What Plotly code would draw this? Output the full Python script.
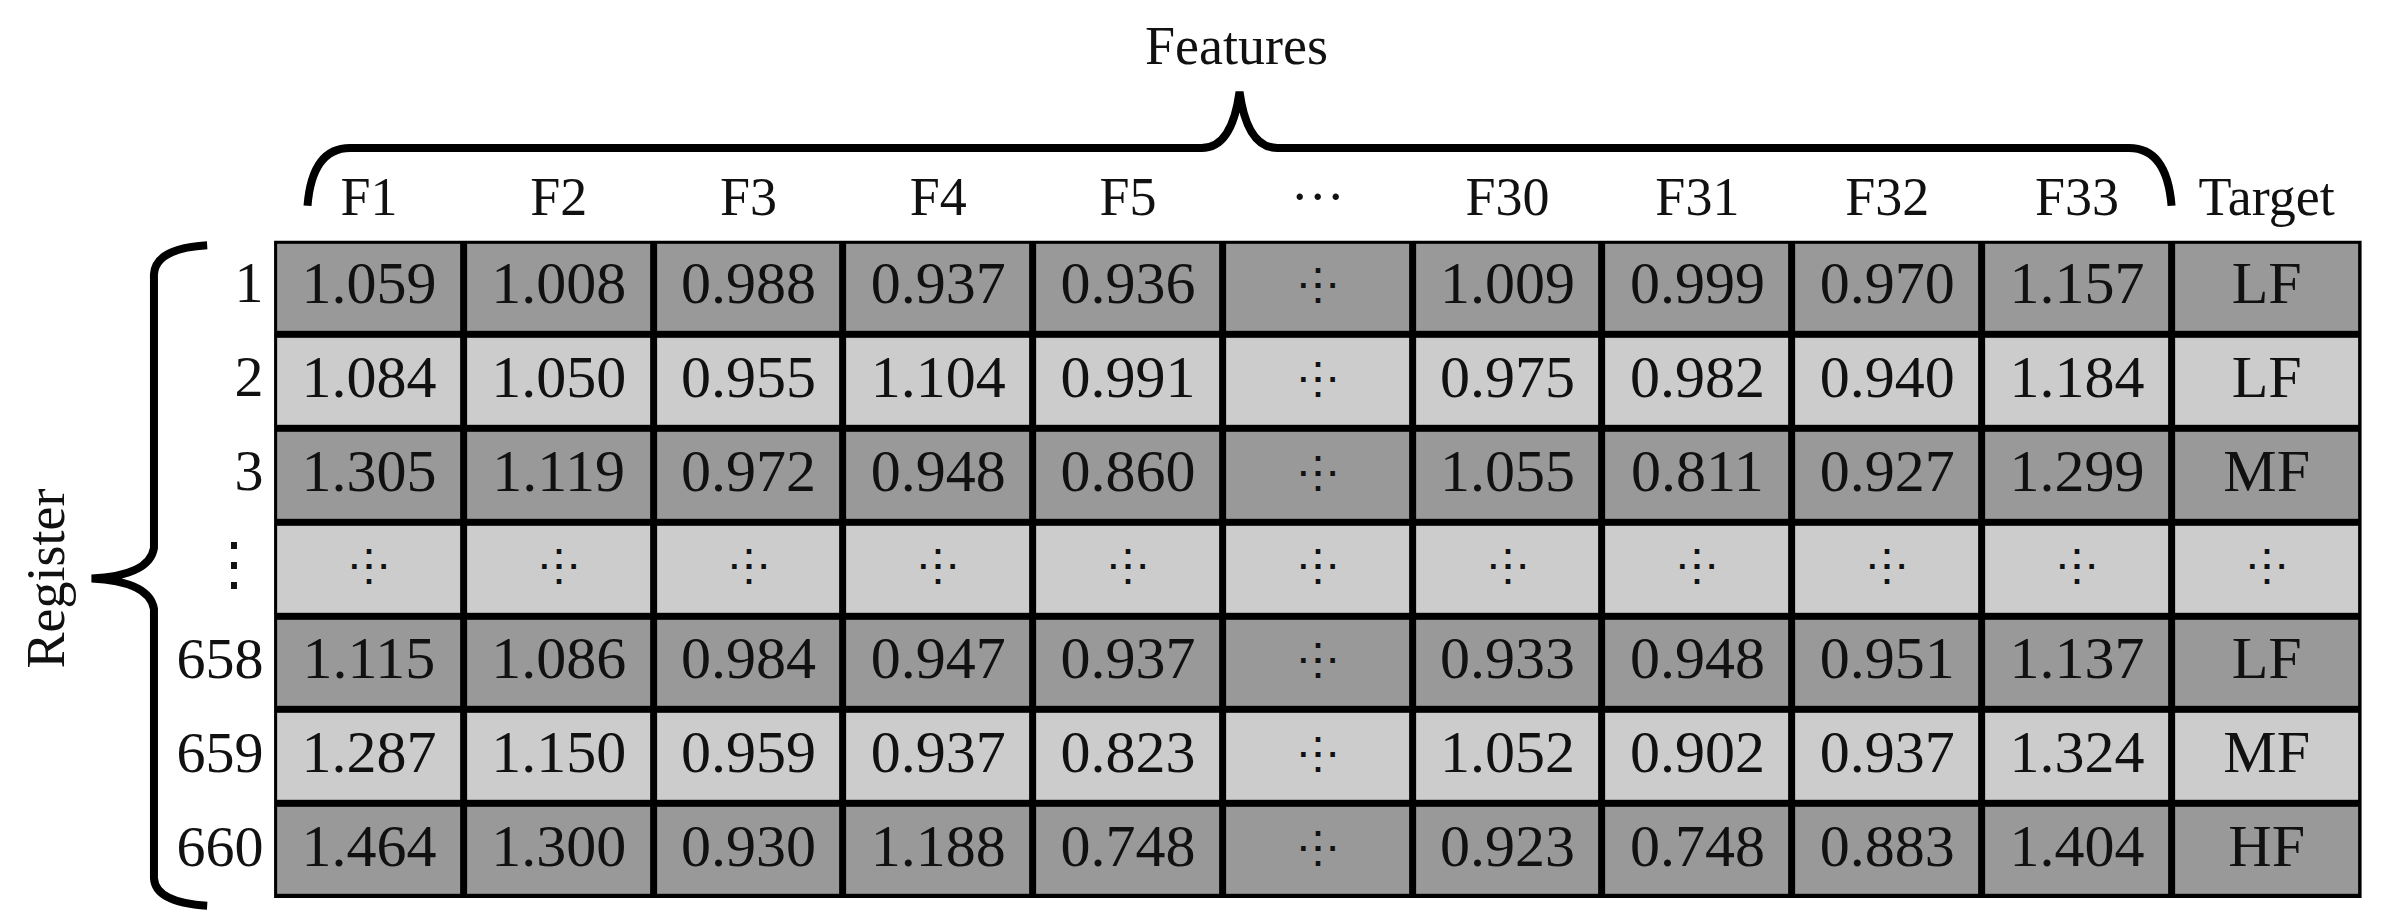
import plotly.graph_objects as go

columns = ["F1", "F2", "F3", "F4", "F5", "···", "F30", "F31", "F32", "F33", "Target"]
row_labels = ["1", "2", "3", "⋮", "658", "659", "660"]
F1 = [1.059, 1.084, 1.305, None, 1.115, 1.287, 1.464]
F2 = [1.008, 1.050, 1.119, None, 1.086, 1.150, 1.300]
F3 = [0.988, 0.955, 0.972, None, 0.984, 0.959, 0.930]
F4 = [0.937, 1.104, 0.948, None, 0.947, 0.937, 1.188]
F5 = [0.936, 0.991, 0.860, None, 0.937, 0.823, 0.748]
F30 = [1.009, 0.975, 1.055, None, 0.933, 1.052, 0.923]
F31 = [0.999, 0.982, 0.811, None, 0.948, 0.902, 0.748]
F32 = [0.970, 0.940, 0.927, None, 0.951, 0.937, 0.883]
F33 = [1.157, 1.184, 1.299, None, 1.137, 1.324, 1.404]
target = ["LF", "LF", "MF", None, "LF", "MF", "HF"]
row_shade = [1, 0, 1, 0, 1, 0, 1]  # 1 = dark, 0 = light

# layout geometry (in reference display units, 1568 x 606)
W, H = 1568, 606
X0, X1, Y0, Y1 = 175, 1548, 153, 585
ncol, nrow = len(columns), len(row_labels)
cw = (X1 - X0) / ncol
rh = (Y1 - Y0) / nrow
xc = [X0 + cw * (i + 0.5) for i in range(ncol)]
yc = [Y0 + rh * (j + 0.5) for j in range(nrow)]

series = [F1, F2, F3, F4, F5, None, F30, F31, F32, F33, target]

fig = go.Figure()
fig.add_trace(go.Heatmap(
    z=[[row_shade[j]] * ncol for j in range(nrow)],
    x=xc, y=yc, xgap=7, ygap=7,
    colorscale=[[0, "#cccccc"], [1, "#999999"]], zmin=0, zmax=1,
    showscale=False, hoverinfo="skip"))

FONT = "Liberation Serif"
tx, ty, tt = [], [], []
dx, dy = [], []
for i, s in enumerate(series):
    for j in range(nrow):
        if s is None or s[j] is None:
            dx.append(xc[i]); dy.append(yc[j])
        else:
            tx.append(xc[i]); ty.append(yc[j])
            tt.append(s[j] if isinstance(s[j], str) else f"{s[j]:.3f}")
fig.add_trace(go.Scatter(x=tx, y=ty, text=tt, mode="text",
                         textfont=dict(family=FONT, size=60, color="#111"),
                         hoverinfo="skip"))
for glyph in ["⋮", "⋯"]:
    fig.add_trace(go.Scatter(x=dx, y=dy, text=[glyph] * len(dx), mode="text",
                             textfont=dict(family=FONT, size=44, color="#111"),
                             hoverinfo="skip"))
# headers
fig.add_trace(go.Scatter(x=xc, y=[127] * ncol, text=columns, mode="text",
                         textfont=dict(family=FONT, size=54, color="#111"),
                         hoverinfo="skip"))
# row labels
fig.add_trace(go.Scatter(x=[168] * nrow, y=yc, text=row_labels, mode="text",
                         textposition="middle left",
                         textfont=dict(family=FONT, size=58, color="#111"),
                         hoverinfo="skip"))

shapes = [
    dict(type="rect", x0=X0, x1=X1, y0=Y0, y1=Y1, fillcolor="black",
         line=dict(color="black", width=0), layer="below"),
    dict(type="path", path="M 197 130 Q 200 92 225 92 L 785 92 Q 805 92 810 55 Q 815 92 835 92 L 1395 92 Q 1420 92 1423 130",
         line=dict(color="black", width=8)),
    dict(type="path", path="M 131 156 Q 97 158 96 175 L 96 355 Q 93 373 55 375 Q 93 377 96 395 L 96 572 Q 97 588 131 590",
         line=dict(color="black", width=8)),
]
fig.update_layout(
    width=2384, height=922, margin=dict(l=0, r=0, t=0, b=0),
    paper_bgcolor="white", plot_bgcolor="white", showlegend=False,
    shapes=shapes,
    xaxis=dict(range=[0, W], visible=False, fixedrange=True),
    yaxis=dict(range=[H, 0], visible=False, fixedrange=True),
    annotations=[
        dict(x=808, y=25, text="Features", showarrow=False,
             font=dict(family=FONT, size=54, color="#111")),
        dict(x=25, y=375, text="Register", showarrow=False, textangle=-90,
             font=dict(family=FONT, size=54, color="#111")),
    ],
)
fig.write_html("out.html")
